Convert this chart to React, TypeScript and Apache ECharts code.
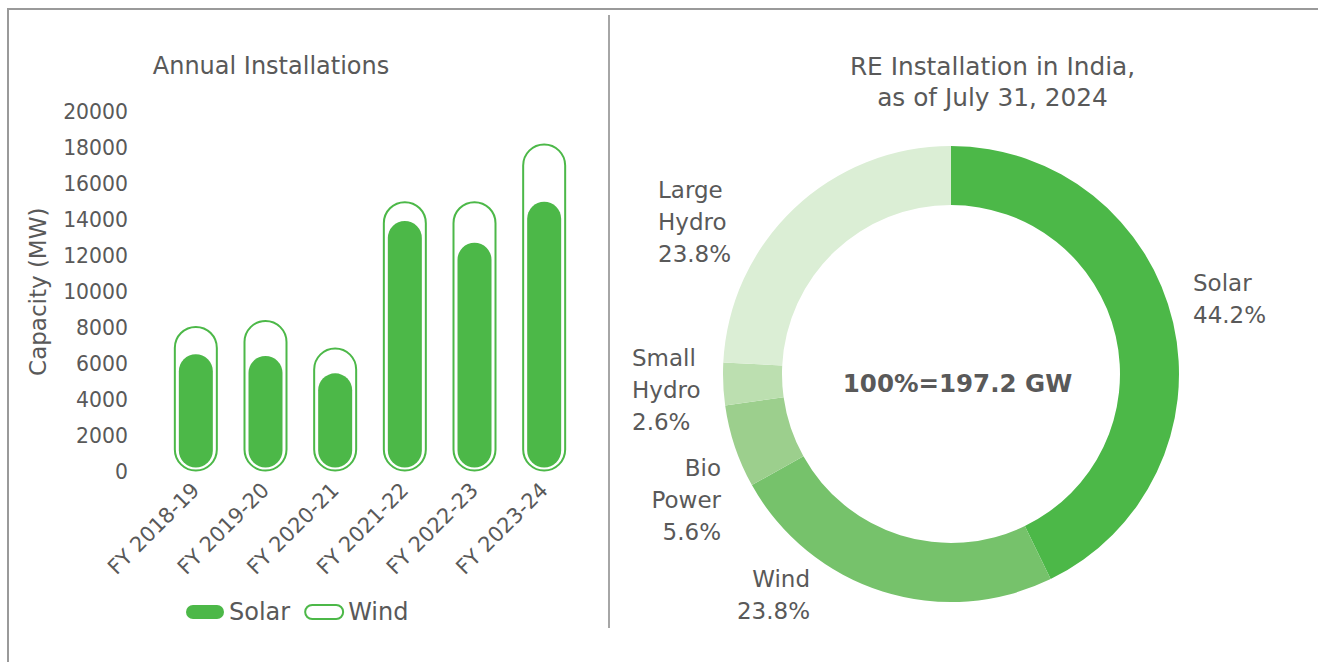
import React, { useEffect, useRef } from "react";
import * as echarts from "echarts";

// ---- data ----
const categories = ["FY 2018-19", "FY 2019-20", "FY 2020-21", "FY 2021-22", "FY 2022-23", "FY 2023-24"];
const solarMW = [6520, 6430, 5460, 13940, 12730, 15010];
const windMW = [1580, 2000, 1440, 1100, 2310, 3240];
const yMax = 20000;
const yStep = 2000;

const mixNames = ["Solar", "Wind", "Bio Power", "Small Hydro", "Large Hydro"];
const mixShares = [42.8, 24.1, 5.9, 3.0, 24.2]; // slice sizes as drawn
const mixLabels = ["44.2%", "23.8%", "5.6%", "2.6%", "23.8%"]; // printed labels
const totalLabel = "100%=197.2 GW";

const leftTitle = "Annual Installations";
const rightTitle = "RE Installation in India,\nas of July 31, 2024";
const yName = "Capacity (MW)";

// ---- styling ----
const FONT = "DejaVu Sans";
const TEXT = "#595959";
const GREEN = "#4cb848";
const mixColors = ["#4cb848", "#76c26b", "#9ccf8d", "#bcdfb0", "#dbeed5"];
const pieLabelPos = [
  { x: 1193, y: 299, align: "left" },
  { x: 810, y: 595, align: "right" },
  { x: 721, y: 500, align: "right" },
  { x: 632, y: 390, align: "left" },
  { x: 658, y: 222, align: "left" },
];

const capsule = "path://M7 0H31A7 7 0 0 1 31 14H7A7 7 0 0 1 7 0Z";

export default function App() {
  const ref = useRef<HTMLDivElement>(null);

  useEffect(() => {
    if (!ref.current) return;
    const chart = echarts.init(ref.current, undefined, { renderer: "svg" });
    const totals = solarMW.map((s, i) => s + windMW[i]);

    const option: any = {
      animation: false,
      textStyle: { fontFamily: FONT, color: TEXT },
      graphic: [
        { type: "line", silent: true, shape: { x1: 8, y1: 9, x2: 1318, y2: 9 }, style: { stroke: "#9a9a9a", lineWidth: 2 } },
        { type: "line", silent: true, shape: { x1: 8, y1: 8, x2: 8, y2: 662 }, style: { stroke: "#9a9a9a", lineWidth: 2 } },
        { type: "line", silent: true, shape: { x1: 609, y1: 15, x2: 609, y2: 628 }, style: { stroke: "#a6a6a6", lineWidth: 2 } },
        {
          type: "text", silent: true, x: 271, y: 66,
          style: { text: leftTitle, fill: TEXT, font: `24px '${FONT}'`, align: "center", verticalAlign: "middle" },
        },
        {
          type: "text", silent: true, x: 992.5, y: 81.5,
          style: { text: rightTitle, fill: TEXT, font: `24.8px '${FONT}'`, lineHeight: 31, align: "center", verticalAlign: "middle" },
        },
        {
          type: "text", silent: true, x: 957.5, y: 383,
          style: { text: totalLabel, fill: TEXT, font: `bold 24.5px '${FONT}'`, align: "center", verticalAlign: "middle" },
        },
      ],
      legend: {
        left: 181,
        top: 595,
        itemWidth: 38,
        itemHeight: 14,
        itemGap: 14,
        selectedMode: false,
        textStyle: { fontSize: 24, color: TEXT, fontFamily: FONT },
        data: [
          { name: "Solar", icon: capsule, itemStyle: { color: GREEN, borderWidth: 0 } },
          { name: "Wind", icon: capsule, itemStyle: { color: "#fff", borderColor: GREEN, borderWidth: 2 } },
        ],
      },
      grid: { left: 161, top: 112, width: 418, height: 359.5 },
      xAxis: {
        type: "category",
        data: categories,
        axisLine: { show: false },
        axisTick: { show: false },
        axisLabel: { interval: 0, rotate: 45, margin: 15, fontSize: 21, color: TEXT, fontFamily: FONT },
      },
      yAxis: {
        type: "value",
        min: 0,
        max: yMax,
        interval: yStep,
        name: yName,
        nameLocation: "middle",
        nameGap: 112,
        nameTextStyle: { fontSize: 23, color: TEXT, fontFamily: FONT },
        axisLine: { show: false },
        axisTick: { show: false },
        splitLine: { show: false },
        axisLabel: { margin: 33, fontSize: 20.4, color: TEXT, fontFamily: FONT, formatter: (v: number) => String(v) },
      },
      series: [
        {
          name: "Wind",
          type: "bar",
          data: totals,
          barWidth: 44,
          silent: true,
          z: 2,
          itemStyle: { color: "#fff", borderColor: GREEN, borderWidth: 2, borderRadius: 22 },
        },
        {
          name: "Solar",
          type: "custom",
          silent: true,
          z: 3,
          data: solarMW.map((v, i) => [i, v]),
          encode: { x: 0, y: 1 },
          itemStyle: { color: GREEN },
          renderItem: (params: any, api: any) => {
            const i = api.value(0);
            const v = api.value(1);
            const top = api.coord([i, v]);
            const base = api.coord([i, 0]);
            const w = 34;
            const y0 = base[1] - 4;
            return {
              type: "rect",
              shape: { x: top[0] - w / 2, y: top[1], width: w, height: y0 - top[1], r: w / 2 },
              style: { fill: GREEN },
            };
          },
        },
        {
          name: "RE mix",
          type: "pie",
          center: [951, 374],
          radius: [169, 228],
          startAngle: 90,
          clockwise: true,
          silent: true,
          avoidLabelOverlap: false,
          data: mixNames.map((n, i) => ({ name: n, value: mixShares[i], itemStyle: { color: mixColors[i] } })),
          label: {
            show: true,
            position: "outside",
            fontSize: 23,
            lineHeight: 32,
            color: TEXT,
            fontFamily: FONT,
            formatter: (p: any) => p.name.replace(" ", "\n") + "\n" + mixLabels[p.dataIndex],
          },
          labelLine: { show: false },
          labelLayout: (params: any) => {
            const L = pieLabelPos[params.dataIndex];
            return { x: L.x, y: L.y, align: L.align, verticalAlign: "middle" };
          },
          emphasis: { disabled: true },
        },
      ],
    };

    chart.setOption(option);
    return () => chart.dispose();
  }, []);

  return <div ref={ref} style={{ position: "fixed", left: 0, top: 0, width: 1318, height: 662, background: "#fff" }} />;
}
